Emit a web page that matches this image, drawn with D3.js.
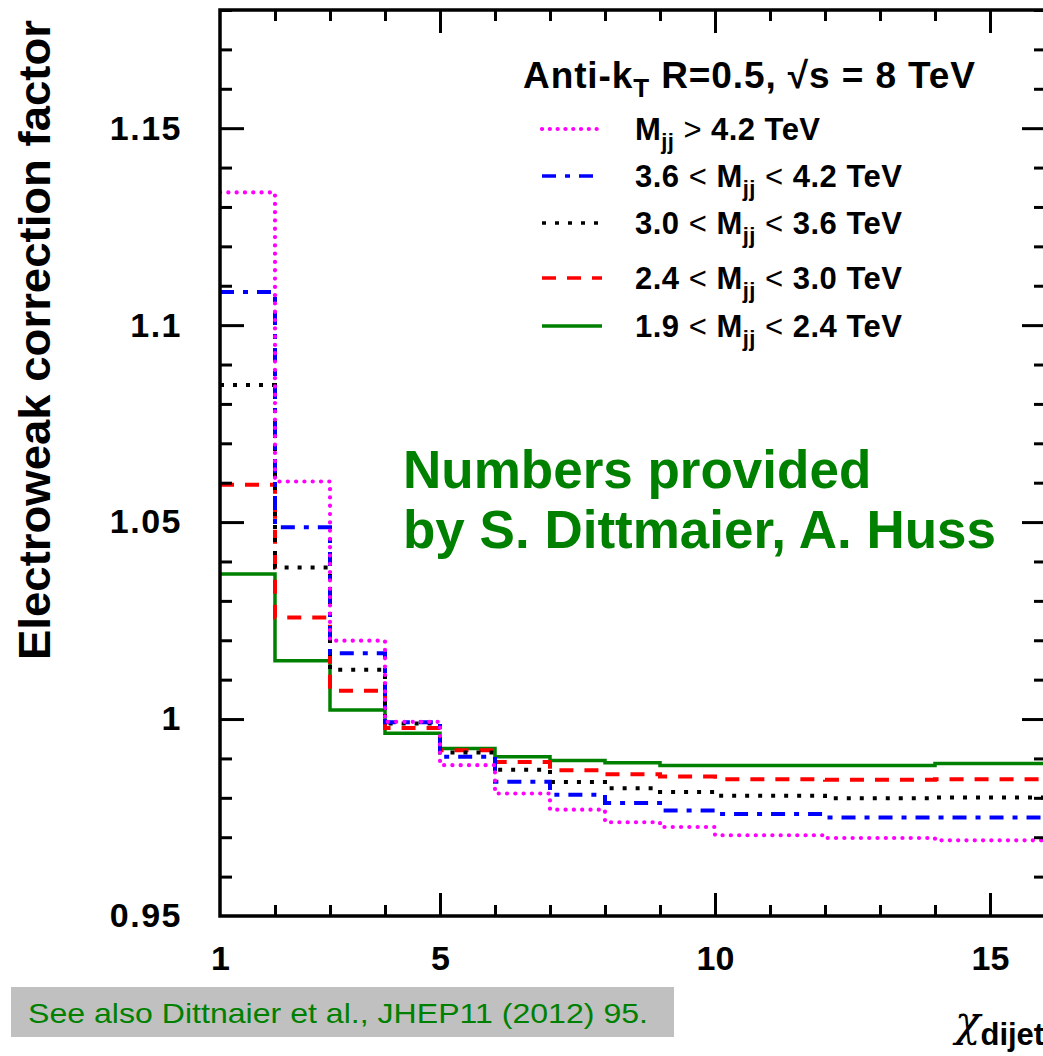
<!DOCTYPE html>
<html>
<head>
<meta charset="utf-8">
<script src="https://cdn.jsdelivr.net/npm/d3@7"></script>
<style>
  body { margin: 0; background: #fff; }
  text { font-family: "Liberation Sans", Arial, sans-serif; }
</style>
</head>
<body>
<script>
// bin edges in chi_dijet
var binEdges = [1, 2, 3, 4, 5, 6, 7, 8, 9, 10, 12, 14, 16];

// correction factor per bin, one array for each mass range
var mjjAbove42 = [1.1337, 1.0603, 1.0199, 0.9993, 0.9883, 0.9811, 0.9770, 0.9738, 0.9726, 0.9705, 0.9698, 0.9692];
var mjj36to42  = [1.1084, 1.0487, 1.0167, 0.9992, 0.9904, 0.9841, 0.9808, 0.9787, 0.9768, 0.9759, 0.9750, 0.9750];
var mjj30to36  = [1.0848, 1.0385, 1.0125, 0.9989, 0.9915, 0.9871, 0.9840, 0.9824, 0.9815, 0.9805, 0.9799, 0.9801];
var mjj24to30  = [1.0595, 1.0258, 1.0072, 0.9977, 0.9921, 0.9891, 0.9870, 0.9860, 0.9854, 0.9847, 0.9846, 0.9847];
var mjj19to24  = [1.0368, 1.0148, 1.0023, 0.9964, 0.9925, 0.9904, 0.9895, 0.9889, 0.9882, 0.9882, 0.9882, 0.9887];

// legend labels: [lower, upper] bounds, null when open
var seriesRanges = [[null, "4.2"], ["3.6", "4.2"], ["3.0", "3.6"], ["2.4", "3.0"], ["1.9", "2.4"]];

var xLabelTicks = [1, 5, 10, 15];
var yLabelTicks = [0.95, 1, 1.05, 1.1, 1.15];

var width = 1043, height = 1056;

var svg = d3.select("body").append("svg")
            .attr("width", width)
            .attr("height", height);

var x = d3.scaleLinear().domain([1, 16]).range([220, 1045]);
var y = d3.scaleLinear().domain([0.95, 1.18]).range([916, 10]);

// series styles (drawn bottom to top)
var series = [
  {vals: mjj19to24,  range: seriesRanges[4], color: "#008000", dash: null,        cap: "butt",  w: 3.5},
  {vals: mjj24to30,  range: seriesRanges[3], color: "#ff0000", dash: "14,11",     cap: "butt",  w: 4},
  {vals: mjj30to36,  range: seriesRanges[2], color: "#000000", dash: "4,9",       cap: "butt",  w: 4},
  {vals: mjj36to42,  range: seriesRanges[1], color: "#0000ff", dash: "14,9,5,9",  cap: "butt",  w: 4},
  {vals: mjjAbove42, range: seriesRanges[0], color: "#ff00ff", dash: "0.1,8.2",   cap: "round", w: 4.2}
];

svg.append("clipPath").attr("id", "plotclip")
   .append("rect")
   .attr("x", x(1)).attr("y", y(1.18))
   .attr("width", x(16) - x(1)).attr("height", y(0.95) - y(1.18));

var line = d3.line()
             .x(function(d) { return x(d[0]); })
             .y(function(d) { return y(d[1]); })
             .curve(d3.curveStepAfter);

var plot = svg.append("g").attr("clip-path", "url(#plotclip)");

series.forEach(function(s) {
  var pts = s.vals.map(function(v, i) { return [binEdges[i], v]; });
  pts.push([binEdges[binEdges.length - 1], s.vals[s.vals.length - 1]]);
  plot.append("path")
      .datum(pts)
      .attr("d", line)
      .attr("fill", "none")
      .attr("stroke", s.color)
      .attr("stroke-width", s.w)
      .attr("stroke-dasharray", s.dash)
      .attr("stroke-linecap", s.cap);
});

// ---- axes: ticks on all four sides, pointing inward
var minorX = d3.range(2, 17).filter(function(v) { return v % 5 != 0; });
var majorX = [5, 10, 15];
var minorY = d3.range(95, 119).map(function(v) { return v / 100; }).filter(function(v) { return Math.round(v * 100) % 5 != 0; });
var majorY = yLabelTicks.slice(1);

function tickAxis(axis, vals, size, tx, ty) {
  var g = svg.append("g").attr("transform", "translate(" + tx + "," + ty + ")")
             .call(axis.tickValues(vals).tickSize(size).tickFormat(""));
  g.select(".domain").remove();
  g.selectAll("line").attr("stroke", "#000").attr("stroke-width", 3);
  return g;
}

tickAxis(d3.axisBottom(x), minorX, -11, 0, y(0.95));
tickAxis(d3.axisBottom(x), majorX, -23, 0, y(0.95));
tickAxis(d3.axisTop(x), minorX, -11, 0, y(1.18));
tickAxis(d3.axisTop(x), majorX, -23, 0, y(1.18));
tickAxis(d3.axisLeft(y), minorY, -12, x(1), 0);
tickAxis(d3.axisLeft(y), majorY, -24, x(1), 0);
tickAxis(d3.axisLeft(y), minorY, 11, x(16), 0);
tickAxis(d3.axisLeft(y), majorY, 23, x(16), 0);

// frame
svg.append("rect")
   .attr("x", x(1)).attr("y", y(1.18))
   .attr("width", x(16) - x(1)).attr("height", y(0.95) - y(1.18))
   .attr("fill", "none").attr("stroke", "#000").attr("stroke-width", 3.5);

// tick labels
var gxl = svg.append("g").attr("transform", "translate(0," + y(0.95) + ")")
             .call(d3.axisBottom(x).tickValues(xLabelTicks).tickSize(0).tickPadding(30).tickFormat(d3.format("d")));
gxl.select(".domain").remove();
gxl.selectAll("text").attr("font-size", 34).attr("font-weight", "bold")
   .attr("font-family", "'Liberation Sans', Arial, sans-serif").attr("fill", "#000");

var gyl = svg.append("g").attr("transform", "translate(" + x(1) + ",0)")
             .call(d3.axisLeft(y).tickValues(yLabelTicks).tickSize(0).tickPadding(38)
                     .tickFormat(function(d) { return d == 1 ? "1" : d3.format(".3~f")(d); }));
gyl.select(".domain").remove();
gyl.selectAll("text").attr("font-size", 34).attr("font-weight", "bold")
   .attr("letter-spacing", 1.5)
   .attr("font-family", "'Liberation Sans', Arial, sans-serif").attr("fill", "#000");

// axis titles
svg.append("text")
   .attr("transform", "translate(50,340) rotate(-90)")
   .attr("text-anchor", "middle")
   .attr("font-size", 44).attr("font-weight", "bold")
   .attr("textLength", 640).attr("lengthAdjust", "spacingAndGlyphs")
   .text("Electroweak correction factor");

var xt = svg.append("text").attr("x", 955).attr("y", 1036);
xt.append("tspan").attr("font-size", 42).attr("font-family", "'DejaVu Serif', serif").attr("font-style", "italic").text("χ");
xt.append("tspan").attr("font-size", 31).attr("font-weight", "bold").attr("dy", 9).text("dijet");

// legend
var lg = svg.append("g");
var title = lg.append("text").attr("x", 523).attr("y", 88)
              .attr("font-size", 37).attr("font-weight", "bold")
              .attr("textLength", 452).attr("lengthAdjust", "spacing");
title.append("tspan").text("Anti-k");
title.append("tspan").attr("font-size", 26).attr("dy", 9).text("T");
title.append("tspan").attr("dy", -9).text(" R=0.5,  \u221As = 8 TeV");

var rowY = [129, 176, 223, 278, 326];
var legOrder = series.slice().reverse();
legOrder.forEach(function(s, i) {
  lg.append("line")
    .attr("x1", 542).attr("x2", 602)
    .attr("y1", rowY[i]).attr("y2", rowY[i])
    .attr("stroke", s.color)
    .attr("stroke-width", s.cap == "round" ? 4.2 : 3.5)
    .attr("stroke-dasharray", s.cap == "round" ? "0.1,7.7" : s.dash)
    .attr("stroke-linecap", s.cap);
  var t = lg.append("text").attr("x", 635).attr("y", rowY[i] + 11)
            .attr("font-size", 31).attr("font-weight", "bold")
            .attr("lengthAdjust", "spacing")
            .attr("textLength", s.range[0] != null ? 267 : 185);
  if (s.range[0] != null) {
    t.append("tspan").text(s.range[0] + " ");
    t.append("tspan").attr("font-weight", "normal").text("<");
    t.append("tspan").text(" M");
  } else {
    t.append("tspan").text("M");
  }
  t.append("tspan").attr("font-size", 22).attr("dy", 9).text("jj");
  if (s.range[0] != null) {
    t.append("tspan").attr("dy", -9).attr("font-weight", "normal").text(" <");
  } else {
    t.append("tspan").attr("dy", -9).attr("font-weight", "normal").text(" >");
  }
  t.append("tspan").text(" " + s.range[1] + " TeV");
});

// annotation
var note = svg.append("text").attr("x", 403).attr("fill", "#008000")
              .attr("font-size", 53).attr("font-weight", "bold");
note.append("tspan").attr("x", 403).attr("y", 488).text("Numbers provided");
note.append("tspan").attr("x", 403).attr("y", 548).text("by S. Dittmaier, A. Huss");

// reference box
svg.append("rect").attr("x", 11).attr("y", 987).attr("width", 663).attr("height", 50).attr("fill", "#c0c0c0");
svg.append("text").attr("x", 28).attr("y", 1023)
   .attr("fill", "#008000").attr("font-size", 28)
   .attr("textLength", 620).attr("lengthAdjust", "spacingAndGlyphs")
   .text("See also Dittnaier et al., JHEP11 (2012) 95.");
</script>
</body>
</html>
